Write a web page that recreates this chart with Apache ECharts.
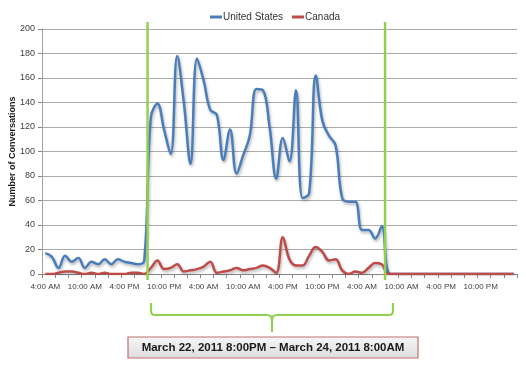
<!DOCTYPE html>
<html>
<head>
<meta charset="utf-8">
<script src="https://cdn.jsdelivr.net/npm/echarts@6/dist/echarts.min.js"></script>
<style>
html,body{margin:0;padding:0;background:#fff;}
#chart{width:526px;height:365px;}
</style>
</head>
<body>
<div id="chart"></div>
<script>
// Hourly categories, starting March 22, 2011 4:00 AM (three days)
const dayHours = ["4:00 AM","5:00 AM","6:00 AM","7:00 AM","8:00 AM","9:00 AM","10:00 AM","11:00 AM",
  "12:00 PM","1:00 PM","2:00 PM","3:00 PM","4:00 PM","5:00 PM","6:00 PM","7:00 PM","8:00 PM","9:00 PM",
  "10:00 PM","11:00 PM","12:00 AM","1:00 AM","2:00 AM","3:00 AM"];
const categories = dayHours.concat(dayHours, dayHours);

const unitedStates = [17,14,5,15,10,13,5,10,8,12,8,12,10,9,8,11,
  128,139,118,98,178,140,90,176,158,134,130,93,118,82,97,113,151,150,120,78,111,92,150,62,66,162,125,113,105,62,59,59,36,36,29,39,1,
  0,0,0,0,0,0,0,0,0,0,0,0,0,0,0,0,0,0,0];
const canada = [0,0,1,2,2,1,0,1,0,1,0,0,0,1,1,0,
  5,11,4,5,8,2,3,4,6,10,1,2,3,5,3,4,5,7,5,1,30,12,7,7,15,22,18,11,12,3,0,2,1,5,9,8,0,
  0,0,0,0,0,0,0,0,0,0,0,0,0,0,0,0,0,0,0];

const yTicks = [0,20,40,60,80,100,120,140,160,180,200];
const windowStartIndex = 16; // March 22, 2011 8:00 PM
const windowEndIndex = 52;   // March 24, 2011 8:00 AM
const windowLabel = "March 22, 2011 8:00PM \u2013 March 24, 2011 8:00AM";

const font = "'Liberation Sans', Arial, sans-serif";
const chart = echarts.init(document.getElementById('chart'), null, {renderer:'canvas'});

chart.setOption({
  animation: false,
  backgroundColor: '#ffffff',
  textStyle: {fontFamily: font},
  legend: {
    left: 205, top: 7, itemGap: 9, itemWidth: 12, itemHeight: 3, icon: 'rect',
    textStyle: {fontSize: 10, color: '#333333', fontFamily: font, padding: [0,0,0,-4]},
    data: ['United States','Canada']
  },
  grid: {left: 42, right: 9, top: 29, bottom: 91, outerBoundsMode: 'none', containLabel: false},
  xAxis: {
    type: 'category', data: categories, boundaryGap: true,
    axisLine: {lineStyle: {color: '#868686'}},
    axisTick: {show: true, interval: 1, length: 4, lineStyle: {color: '#868686'}},
    axisLabel: {interval: 5, fontSize: 8, color: '#404040', margin: 9, fontFamily: font, hideOverlap: false},
    splitLine: {show: false}
  },
  yAxis: {
    type: 'value', min: yTicks[0], max: yTicks[yTicks.length-1], interval: 20,
    name: 'Number of Conversations', nameLocation: 'middle', nameGap: 25, nameMoveOverlap: false,
    nameTextStyle: {fontSize: 9, fontWeight: 'bold', color: '#1a1a1a', fontFamily: font},
    axisLine: {show: true, lineStyle: {color: '#a0a0a0'}},
    axisTick: {show: true, length: 4, lineStyle: {color: '#868686'}},
    axisLabel: {fontSize: 9, color: '#404040', margin: 7, fontFamily: font},
    splitLine: {lineStyle: {color: '#ababab', width: 1}}
  },
  series: [
    {
      name: 'United States', type: 'line', data: unitedStates, smooth: 0.4, showSymbol: false,
      itemStyle: {color: '#4a7ebb'},
      lineStyle: {color: '#4a7ebb', width: 2.5, shadowColor: 'rgba(0,0,0,0.3)', shadowBlur: 3, shadowOffsetX: 1, shadowOffsetY: 2}
    },
    {
      name: 'Canada', type: 'line', data: canada, smooth: 0.4, showSymbol: false,
      itemStyle: {color: '#be4b48'},
      lineStyle: {color: '#be4b48', width: 2.5, shadowColor: 'rgba(0,0,0,0.3)', shadowBlur: 3, shadowOffsetX: 1, shadowOffsetY: 2}
    }
  ]
});

// Green window markers at the category boundaries, derived from the axis scale
const c0 = chart.convertToPixel({xAxisIndex: 0}, windowStartIndex);
const c1 = chart.convertToPixel({xAxisIndex: 0}, windowStartIndex + 1);
const band = c1 - c0;
const xStart = c0 - band / 2;
const xEnd = chart.convertToPixel({xAxisIndex: 0}, windowEndIndex) - band / 2;
const yTop = chart.convertToPixel({yAxisIndex: 0}, 200) - 7;
const yBot = chart.convertToPixel({yAxisIndex: 0}, 0) + 6;
const green = '#92d050';
const bs = {stroke: green, lineWidth: 2.2, fill: null};

chart.setOption({
  graphic: [
    {type: 'line', z: 100, shape: {x1: xStart, y1: yTop, x2: xStart, y2: yBot}, style: {stroke: green, lineWidth: 2.5}},
    {type: 'line', z: 100, shape: {x1: xEnd, y1: yTop, x2: xEnd, y2: yBot}, style: {stroke: green, lineWidth: 2.5}},
    // brace
    {type: 'line', z: 100, shape: {x1: 151, y1: 303, x2: 151, y2: 311}, style: bs},
    {type: 'bezierCurve', z: 100, shape: {x1: 151, y1: 311, cpx1: 151, cpy1: 315, x2: 155, y2: 315}, style: bs},
    {type: 'line', z: 100, shape: {x1: 155, y1: 315, x2: 267, y2: 315}, style: bs},
    {type: 'bezierCurve', z: 100, shape: {x1: 267, y1: 315, cpx1: 272, cpy1: 315, x2: 272, y2: 320}, style: bs},
    {type: 'line', z: 100, shape: {x1: 272, y1: 320, x2: 272, y2: 332}, style: bs},
    {type: 'bezierCurve', z: 100, shape: {x1: 272, y1: 320, cpx1: 272, cpy1: 315, x2: 277, y2: 315}, style: bs},
    {type: 'line', z: 100, shape: {x1: 277, y1: 315, x2: 389, y2: 315}, style: bs},
    {type: 'bezierCurve', z: 100, shape: {x1: 389, y1: 315, cpx1: 393, cpy1: 315, x2: 393, y2: 311}, style: bs},
    {type: 'line', z: 100, shape: {x1: 393, y1: 311, x2: 393, y2: 303}, style: bs},
    {type: 'rect', z: 100, shape: {x: 128, y: 337, width: 290, height: 21},
     style: {stroke: '#c0706d', lineWidth: 1.2,
       fill: {type: 'linear', x: 0, y: 0, x2: 0, y2: 1, colorStops: [{offset: 0, color: '#f7f7f7'}, {offset: 1, color: '#dcdcdc'}]}}},
    {type: 'text', z: 101, x: 273, y: 348,
     style: {text: windowLabel, fontSize: 11.5, fontWeight: 'bold', fontFamily: font, fill: '#1a1a1a', align: 'center', verticalAlign: 'middle'}}
  ]
});
</script>
</body>
</html>
